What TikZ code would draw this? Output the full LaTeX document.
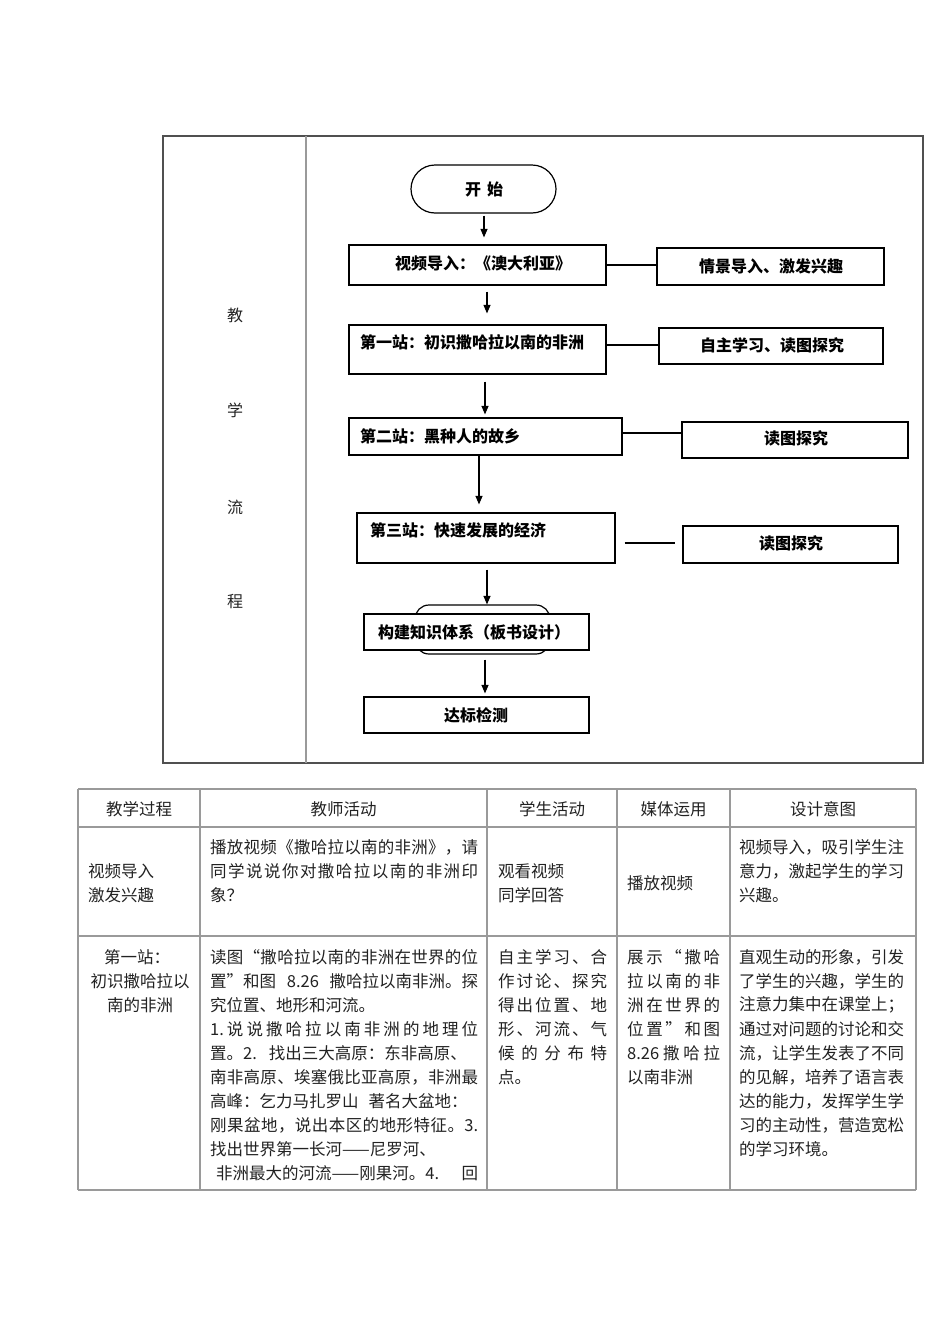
\documentclass[tikz,border=0pt]{standalone}
\usepackage{fontspec}
\newfontfamily\cjk{Noto Sans CJK SC}
\usetikzlibrary{arrows.meta,calc}
\definecolor{framec}{HTML}{505050}
\definecolor{gridc}{HTML}{9A9A9A}
\definecolor{tx}{HTML}{222222}
\def\spreadA#1{\ifx\relax#1\else#1\hskip0pt plus1fil\relax\expandafter\spreadA\fi}
\newcommand\jline[2]{\hbox to #1{\spreadA#2\relax\unskip}}
\begin{document}
\begin{tikzpicture}[x=1pt,y=-1pt,
  fb/.style={draw=black, line width=1.2pt, inner sep=0pt, fill=white},
  ft/.style={font=\cjk\bfseries\fontsize{16}{19}\selectfont, inner sep=0pt},
  lt/.style={font=\cjk\fontsize{16}{19}\selectfont, text=tx, inner sep=0pt},
  tt/.style={font=\cjk\fontsize{16.5}{19}\selectfont, text=tx, inner sep=0pt},
  tl/.style={tt, anchor=west},
  arr/.style={-{Triangle[length=8.5pt,width=7pt]}, line width=1.1pt},
  conn/.style={line width=1.1pt},
  gridline/.style={draw=gridc, line width=1.1pt}]
\useasboundingbox (0,0) rectangle (950,1344);

% ---------- flow frame ----------
\draw[draw=framec, line width=1.2pt] (163,136) rectangle (923,763);
\draw[draw=gridc, line width=1.2pt] (306,136) -- (306,763);
\node[lt] (c1) at (235,315) {教};
\node[lt] (c2) at (235,410) {学};
\node[lt] (c3) at (235,507) {流};
\node[lt] (c4) at (235,602) {程};

% ---------- flow nodes ----------
\node[fb, rounded corners=24pt, minimum width=145pt, minimum height=48pt] (start) at (483.5,189) {};
\node[ft] (startt) at (484,189) {开\hspace{6pt}始};

\node[fb, minimum width=257pt, minimum height=40pt] (box1) at (477.5,265) {};
\node[ft] (box1t) at (483,263) {视频导入：《澳大利亚》};
\node[fb, minimum width=227pt, minimum height=37pt] (side1) at (770.5,266.5) {};
\node[ft] (side1t) at (771,266) {情景导入、激发兴趣};

\node[fb, minimum width=257pt, minimum height=49pt] (box2) at (477.5,349.5) {};
\node[ft, anchor=west] (box2t) at (360,342) {第一站：初识撒哈拉以南的非洲};
\node[fb, minimum width=224pt, minimum height=36pt] (side2) at (771,346) {};
\node[ft] (side2t) at (772,345) {自主学习、读图探究};

\node[fb, minimum width=273pt, minimum height=37pt] (box3) at (485.5,436.5) {};
\node[ft, anchor=west] (box3t) at (360,436) {第二站：黑种人的故乡};
\node[fb, minimum width=226pt, minimum height=36pt] (side3) at (795,440) {};
\node[ft] (side3t) at (796,438) {读图探究};

\node[fb, minimum width=258pt, minimum height=50pt] (box4) at (486,538) {};
\node[ft, anchor=west] (box4t) at (370,530) {第三站：快速发展的经济};
\node[fb, minimum width=215pt, minimum height=37pt] (side4) at (790.5,544.5) {};
\node[ft] (side4t) at (791,543) {读图探究};

\node[fb, rounded corners=14pt, minimum width=135pt, minimum height=49pt] (round5) at (482.5,629.5) {};
\node[fb, minimum width=225pt, minimum height=36pt] (box5) at (476.5,632) {};
\node[ft] (box5t) at (474,632) {构建知识体系（板书设计）};

\node[fb, minimum width=225pt, minimum height=36pt] (box6) at (476.5,715) {};
\node[ft] (box6t) at (476,715) {达标检测};

% ---------- connectors ----------
\coordinate (ax1) at (484,0);
\coordinate (ax2) at (487,0);
\coordinate (ax3) at (485,0);
\coordinate (ax4) at (479,0);
\coordinate (ax5) at (487,0);
\coordinate (ax6) at (485,0);
\draw[arr] ($(start.south -| ax1)+(0,2)$) -- ($(box1.north -| ax1)+(0,-7)$);
\draw[arr] ($(box1.south -| ax2)+(0,6)$) -- ($(box2.north -| ax2)+(0,-11)$);
\draw[arr] ($(box2.south -| ax3)+(0,7)$) -- ($(box3.north -| ax3)+(0,-3)$);
\draw[arr] (box3.south -| ax4) -- ($(box4.north -| ax4)+(0,-8)$);
\draw[arr] ($(box4.south -| ax5)+(0,6)$) -- (round5.north -| ax5);
\draw[arr] ($(box5.south -| ax6)+(0,9)$) -- ($(box6.north -| ax6)+(0,-3)$);

\coordinate (sy1) at (0,265);
\coordinate (sy2) at (0,345);
\coordinate (sy3) at (0,433);
\coordinate (sy4) at (0,543);
\draw[conn] (box1.east |- sy1) -- (side1.west |- sy1);
\draw[conn] (box2.east |- sy2) -- (side2.west |- sy2);
\draw[conn] (box3.east |- sy3) -- (side3.west |- sy3);
\draw[conn] ($(box4.east |- sy4)+(9,0)$) -- ($(side4.west |- sy4)+(-7,0)$);

% ---------- table grid ----------
\foreach \yy in {789,827,936,1190} \draw[gridline] (78,\yy) -- (916,\yy);
\foreach \xx in {78,200,487,617,730,916} \draw[gridline] (\xx,789) -- (\xx,1190);

% header
\node[tt] (h1) at (139,809) {教学过程};
\node[tt] (h2) at (343.5,809) {教师活动};
\node[tt] (h3) at (552,809) {学生活动};
\node[tt] (h4) at (673.5,809) {媒体运用};
\node[tt] (h5) at (823,809) {设计意图};

% row 1
\node[tl] (r1a1) at (88,871) {视频导入};
\node[tl] (r1a2) at (88,895) {激发兴趣};
\node[tl] (r1b1) at (210,847) {\jline{268pt}{播放视频《撒哈拉以南的非洲》，请}};
\node[tl] (r1b2) at (210,871) {\jline{268pt}{同学说说你对撒哈拉以南的非洲印}};
\node[tl] (r1b3) at (210,895) {象？};
\node[tl] (r1c1) at (498,871) {观看视频};
\node[tl] (r1c2) at (498,895) {同学回答};
\node[tl] (r1d1) at (627,883) {播放视频};
\node[tl] (r1e1) at (739,847) {视频导入，吸引学生注};
\node[tl] (r1e2) at (739,871) {意力，激起学生的学习};
\node[tl] (r1e3) at (739,895) {兴趣。};

% row 2
\node[tt] (r2a1) at (137,957) {第一站：};
\node[tt] (r2a2) at (140,981) {初识撒哈拉以};
\node[tt] (r2a3) at (140,1005) {南的非洲};

\node[tl] (r2b1) at (210,957) {\jline{268pt}{读图“撒哈拉以南的非洲在世界的位}};
\node[tl] (r2b2) at (210,981) {\hbox to 268pt{置”和图\hfill 8.26\hfill 撒哈拉以南非洲。探}};
\node[tl] (r2b3) at (210,1005) {究位置、地形和河流。};
\node[tl] (r2b4) at (210,1029) {\jline{268pt}{{1.}说说撒哈拉以南非洲的地理位}};
\node[tl] (r2b5) at (210,1053) {\hbox to 268pt{置。2.\hspace{12pt}找出三大高原：东非高原、\hfill}};
\node[tl] (r2b6) at (210,1077) {\jline{268pt}{南非高原、埃塞俄比亚高原，非洲最}};
\node[tl] (r2b7) at (210,1101) {\hbox to 268pt{高峰：乞力马扎罗山\hspace{10pt}著名大盆地：\hfill}};
\node[tl] (r2b8) at (210,1125) {\jline{268pt}{刚果盆地，说出本区的地形特征。{3.}}};
\node[tl] (r2b9) at (210,1149) {找出世界第一长河——尼罗河、};
\node[tl] (r2b10) at (210,1173) {\hbox to 268pt{\hspace{6pt}非洲最大的河流——刚果河。4.\hfill 回}};

\node[tl] (r2c1) at (498,957) {\jline{109pt}{自主学习、合}};
\node[tl] (r2c2) at (498,981) {\jline{109pt}{作讨论、探究}};
\node[tl] (r2c3) at (498,1005) {\jline{109pt}{得出位置、地}};
\node[tl] (r2c4) at (498,1029) {\jline{109pt}{形、河流、气}};
\node[tl] (r2c5) at (498,1053) {\jline{109pt}{候的分布特}};
\node[tl] (r2c6) at (498,1077) {点。};

\node[tl] (r2d1) at (627,957) {\jline{93pt}{展示“撒哈}};
\node[tl] (r2d2) at (627,981) {\jline{93pt}{拉以南的非}};
\node[tl] (r2d3) at (627,1005) {\jline{93pt}{洲在世界的}};
\node[tl] (r2d4) at (627,1029) {\jline{93pt}{位置”和图}};
\node[tl] (r2d5) at (627,1053) {\jline{93pt}{{8.26}撒哈拉}};
\node[tl] (r2d6) at (627,1077) {以南非洲};

\node[tl] (r2e1) at (739,957) {直观生动的形象，引发};
\node[tl] (r2e2) at (739,981) {了学生的兴趣，学生的};
\node[tl] (r2e3) at (739,1005) {注意力集中在课堂上；};
\node[tl] (r2e4) at (739,1029) {通过对问题的讨论和交};
\node[tl] (r2e5) at (739,1053) {流，让学生发表了不同};
\node[tl] (r2e6) at (739,1077) {的见解，培养了语言表};
\node[tl] (r2e7) at (739,1101) {达的能力，发挥学生学};
\node[tl] (r2e8) at (739,1125) {习的主动性，营造宽松};
\node[tl] (r2e9) at (739,1149) {的学习环境。};
\end{tikzpicture}
\end{document}
